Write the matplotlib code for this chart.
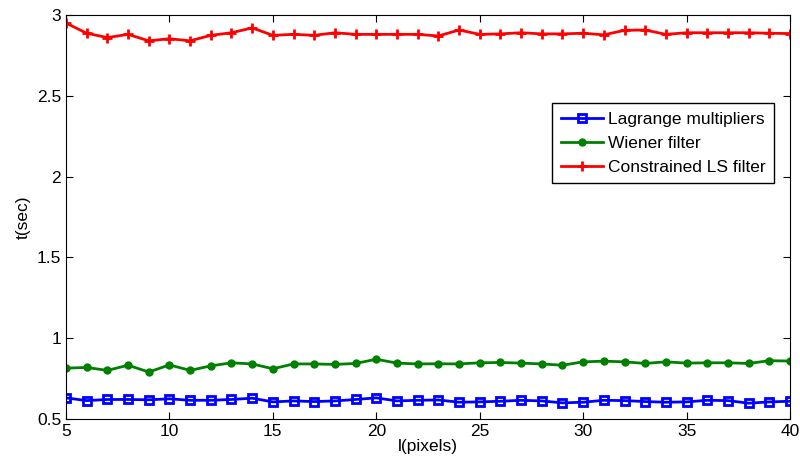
import numpy as np
import matplotlib.pyplot as plt
from matplotlib.ticker import FuncFormatter

plt.rcParams['font.family'] = ['Liberation Sans', 'DejaVu Sans']

l_pixels = np.arange(5, 41)

lagrange = [0.630, 0.613, 0.620, 0.620, 0.618, 0.624, 0.615, 0.615, 0.620, 0.628,
            0.605, 0.611, 0.607, 0.611, 0.620, 0.630, 0.611, 0.615, 0.617, 0.603,
            0.605, 0.609, 0.615, 0.611, 0.599, 0.603, 0.615, 0.613, 0.607, 0.603,
            0.605, 0.615, 0.613, 0.597, 0.605, 0.609]

wiener = [0.814, 0.818, 0.800, 0.832, 0.790, 0.834, 0.800, 0.828, 0.847, 0.840,
          0.810, 0.840, 0.840, 0.837, 0.843, 0.869, 0.845, 0.840, 0.841, 0.840,
          0.847, 0.849, 0.845, 0.840, 0.832, 0.853, 0.857, 0.853, 0.843, 0.853,
          0.845, 0.847, 0.847, 0.843, 0.860, 0.858]

constrained = [2.950, 2.887, 2.860, 2.880, 2.840, 2.853, 2.840, 2.874, 2.890, 2.920,
               2.874, 2.880, 2.874, 2.890, 2.880, 2.880, 2.880, 2.880, 2.870, 2.907,
               2.880, 2.883, 2.890, 2.883, 2.883, 2.887, 2.877, 2.905, 2.907, 2.880,
               2.890, 2.890, 2.890, 2.890, 2.887, 2.885]

fig = plt.figure(figsize=(8, 4.68), dpi=100)
ax = fig.add_axes([0.0825, 0.105, 0.905, 0.863])

ax.plot(l_pixels, lagrange, color='#0000ff', lw=2, marker='s', ms=6,
        mfc='none', mew=2, label='Lagrange multipliers')
ax.plot(l_pixels, wiener, color='#008000', lw=2, marker='o', ms=5,
        label='Wiener filter')
ax.plot(l_pixels, constrained, color='#ff0000', lw=2, marker='+', ms=7,
        mew=2, label='Constrained LS filter')

ax.set_xlim(5, 40)
ax.set_ylim(0.5, 3)
ax.set_xticks(np.arange(5, 41, 5))
ax.set_yticks(np.arange(0.5, 3.01, 0.5))
ax.yaxis.set_major_formatter(FuncFormatter(lambda v, p: '%g' % v))
ax.tick_params(direction='in', top=True, right=True, labelsize=12.5, length=5)
ax.set_xlabel('l(pixels)', fontsize=12.5, labelpad=0)
ax.set_ylabel('t(sec)', fontsize=12.5, labelpad=4)

ax.legend(loc='upper right', bbox_to_anchor=(0.99, 0.803), fontsize=12.5,
          fancybox=False, edgecolor='black', framealpha=1,
          handlelength=2.4, handletextpad=0.3, borderpad=0.5, labelspacing=0.5)

fig.savefig('out.png', dpi=100)
